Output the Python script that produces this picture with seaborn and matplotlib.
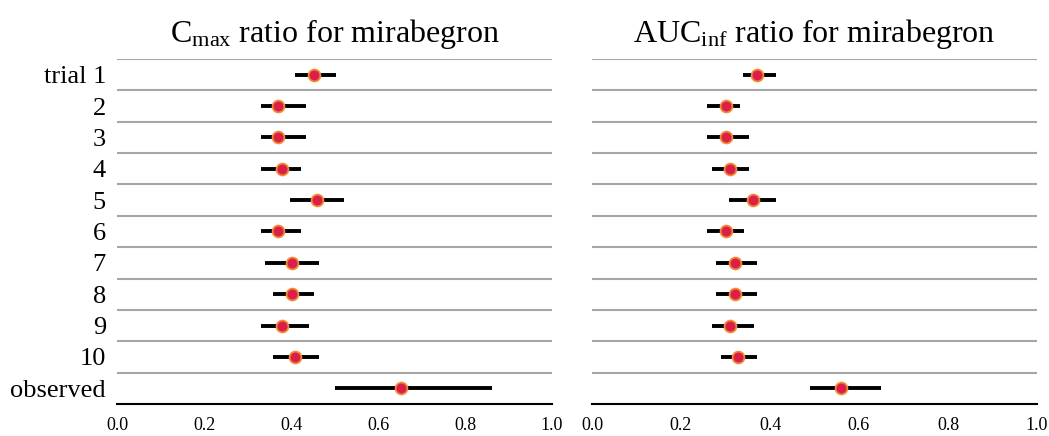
import numpy as np
import pandas as pd
import matplotlib
matplotlib.use("Agg")
import matplotlib.pyplot as plt
from matplotlib.ticker import FixedLocator
import seaborn as sns

# Values
trials = ["trial 1", "2", "3", "4", "5", "6", "7", "8", "9", "10", "observed"]

cmax_est = [0.453, 0.370, 0.370, 0.380, 0.460, 0.370, 0.402, 0.402, 0.380, 0.410, 0.652]
cmax_lo = [0.409, 0.330, 0.330, 0.330, 0.398, 0.330, 0.340, 0.358, 0.330, 0.358, 0.500]
cmax_hi = [0.503, 0.434, 0.434, 0.424, 0.522, 0.424, 0.464, 0.453, 0.441, 0.464, 0.861]

auc_est = [0.370, 0.301, 0.301, 0.311, 0.362, 0.301, 0.321, 0.321, 0.311, 0.327, 0.559]
auc_lo = [0.339, 0.258, 0.258, 0.269, 0.307, 0.258, 0.279, 0.279, 0.269, 0.290, 0.491]
auc_hi = [0.413, 0.333, 0.353, 0.353, 0.413, 0.342, 0.371, 0.371, 0.364, 0.371, 0.649]

xticks = [0.0, 0.2, 0.4, 0.6, 0.8, 1.0]

sns.set_theme(style="white")
plt.rcParams["font.family"] = ["Liberation Serif", "DejaVu Serif"]
plt.rcParams["mathtext.fontset"] = "custom"
plt.rcParams["mathtext.rm"] = "Liberation Serif"
plt.rcParams["mathtext.it"] = "Liberation Serif:italic"
plt.rcParams["text.color"] = "black"
plt.rcParams["xtick.color"] = "black"
plt.rcParams["ytick.color"] = "black"


def long_form(lo, est, hi):
    # three rows per trial: the median is the estimate, min/max the interval
    rows = []
    for t, a, b, c in zip(trials, lo, est, hi):
        rows += [(t, a), (t, b), (t, c)]
    return pd.DataFrame(rows, columns=["trial", "ratio"])


fig = plt.figure(figsize=(10.49, 4.36), dpi=100)
ax1 = fig.add_axes([117 / 1049, 32 / 436, 435 / 1049, 345 / 436])
ax2 = fig.add_axes([592 / 1049, 32 / 436, 445 / 1049, 345 / 436])

panels = [
    (ax1, long_form(cmax_lo, cmax_est, cmax_hi), r"C$_{\mathrm{max}}$ ratio for mirabegron"),
    (ax2, long_form(auc_lo, auc_est, auc_hi), r"AUC$_{\mathrm{inf}}$ ratio for mirabegron"),
]

for ax, df, title in panels:
    sns.pointplot(
        data=df, x="ratio", y="trial", order=trials,
        estimator="median", errorbar=lambda v: (v.min(), v.max()),
        linestyle="none", marker="o", color="black",
        markerfacecolor="#dc1f48", markeredgecolor="#f08a35",
        markersize=8.5, markeredgewidth=1.3,
        err_kws={"linewidth": 2.8, "color": "black", "solid_capstyle": "butt"},
        ax=ax,
    )
    for ln in ax.lines:
        if ln.get_marker() == "o":
            ln.set_zorder(5)

    ax.set_xlim(0, 1)
    ax.set_ylim(len(trials) - 0.5, -0.5)
    ax.set_xticks(xticks)
    ax.set_xticklabels([f"{t:.1f}" for t in xticks], fontsize=13)
    ax.yaxis.set_minor_locator(FixedLocator(np.arange(-0.5, len(trials) - 1, 1)))
    ax.grid(which="minor", axis="y", color="#a6a6a6", linewidth=1.5)
    ax.grid(which="major", visible=False)
    ax.tick_params(which="both", length=0)
    ax.tick_params(axis="x", pad=9)
    ax.tick_params(axis="y", pad=8, labelsize=19)
    for s in ["top", "left", "right"]:
        ax.spines[s].set_visible(False)
    ax.spines["bottom"].set_color("black")
    ax.spines["bottom"].set_linewidth(1.5)
    ax.set_xlabel("")
    ax.set_ylabel("")
    ax.set_title(title, fontsize=23, pad=12, color="black")

ax2.set_yticklabels([])

fig.savefig("out.png", dpi=100)
